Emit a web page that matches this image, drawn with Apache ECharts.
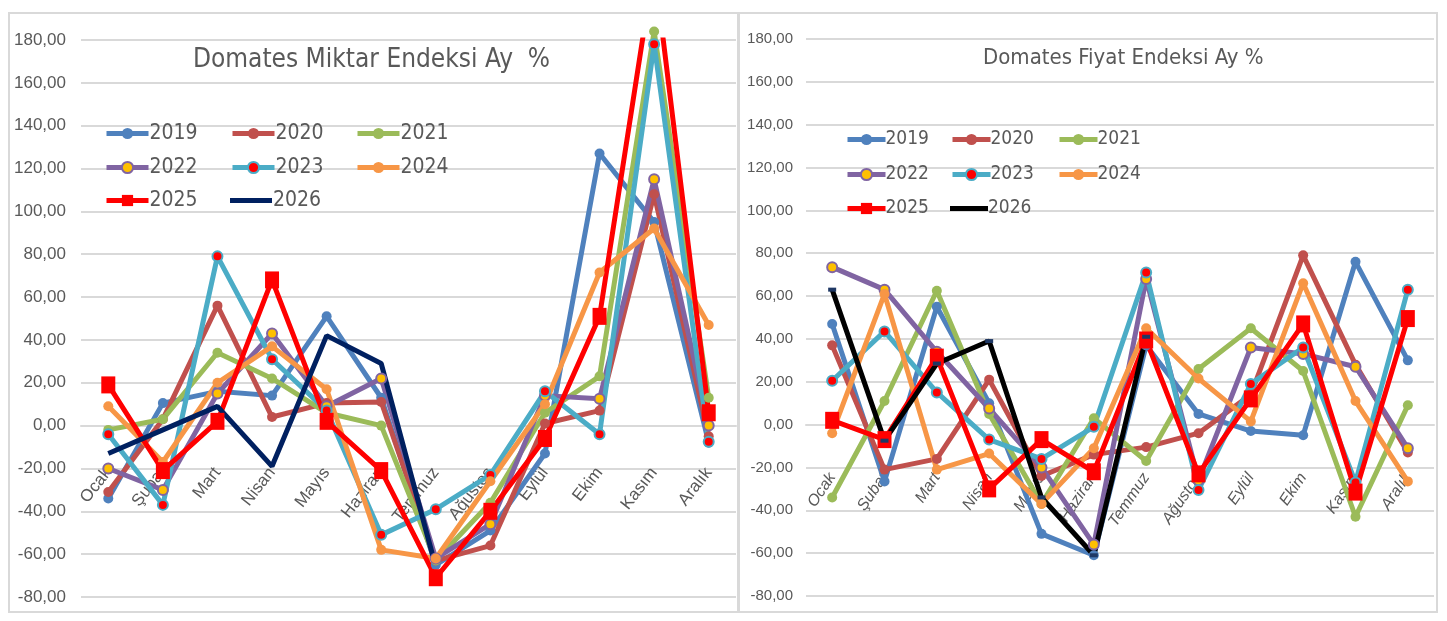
<!DOCTYPE html>
<html>
<head>
<meta charset="utf-8">
<script src="https://cdn.jsdelivr.net/npm/echarts@6.0.0/dist/echarts.min.js"></script>
<style>
body { margin: 0; background: #fff; width: 1447px; height: 621px; overflow: hidden; position: relative; }
.box { position: absolute; top: 14px; height: 597px; outline: 2px solid #d9d9d9; }
#miktar { left: 10px; width: 727px; }
#fiyat { left: 740px; width: 696px; }
</style>
</head>
<body>
<div id="miktar" class="box"></div>
<div id="fiyat" class="box"></div>
<script>
var months = ['Ocak', 'Şubat', 'Mart', 'Nisan', 'Mayıs', 'Haziran', 'Temmuz', 'Ağustos', 'Eylül', 'Ekim', 'Kasım', 'Aralık'];
var years = ['2019', '2020', '2021', '2022', '2023', '2024', '2025', '2026'];
var yMin = -80, yMax = 180, yStep = 20;

// Domates Miktar Endeksi Ay %
var miktar2019 = [-34, 10.5, 16, 14, 51, 13, -65, -49, -13, 127, 95, -8];
var miktar2020 = [-31, 3, 56, 4, 10.5, 11, -63, -56, 1, 7, 108, -5];
var miktar2021 = [-2, 3, 34, 22, 6, 0, -63, -36, 6, 23, 184, 13];
var miktar2022 = [-20, -30, 15, 43, 9, 22, -62, -46, 14, 12.5, 115, 0];
var miktar2023 = [-4, -37, 79, 31, 7, -51, -39, -23, 16, -4, 178, -7.5];
var miktar2024 = [9, -17, 20, 37, 17, -58, -62, -26, 10, 71.5, 92, 47];
var miktar2025 = [19, -21, 2, 68, 2, -21, -71, -40, -6, 51, 215, 6];
var miktar2026 = [-13, -2, 9, -19, 42, 29, -66];

// Domates Fiyat Endeksi Ay %
var fiyat2019 = [47, -26.5, 55, 10, -51, -61, 37, 5, -3, -5, 76, 30];
var fiyat2020 = [37, -21, -16, 21, -24, -14, -10.5, -4, 14, 79, 28, -13];
var fiyat2021 = [-34, 11, 62.5, 5, -37, 3, -17, 26, 45, 25, -43, 9];
var fiyat2022 = [73.5, 63, 34, 7.5, -20, -56, 68, -26, 36, 33, 27, -11];
var fiyat2023 = [20.5, 43.5, 15, -7, -16, -1, 71, -30.5, 19, 36, -27, 63];
var fiyat2024 = [-4, 61, -21, -13.5, -37, -11, 45, 21.5, 1.5, 66, 11, -26.5];
var fiyat2025 = [2, -7, 31.5, -30, -7, -22, 39.5, -23, 12, 47, -31.5, 49.5];
var fiyat2026 = [63, -7.5, 28.5, 39, -34, -61, 41];

var lineColors = ['#4F81BD', '#C0504D', '#9BBB59', '#8064A2', '#4BACC6', '#F79646', '#FF0000'];
var grayText = '#595959';
var narrow = "'DejaVu Sans Condensed', 'DejaVu Sans', sans-serif";
var plain = "'Liberation Sans', Arial, sans-serif";

function fmt(v) {
    return v.toFixed(2).replace('.', ',');
}

function buildSeries(data, lastColor, lastSymbol) {
    return data.map(function (vals, i) {
        var color = i < 7 ? lineColors[i] : lastColor;
        var s = {
            name: years[i],
            type: 'line',
            data: vals,
            symbol: 'circle',
            symbolSize: 10,
            clip: false,
            lineStyle: { width: 5, color: color },
            itemStyle: { color: color }
        };
        if (i == 3) s.itemStyle = { color: '#FFC000', borderColor: color, borderWidth: 2 };
        if (i == 4) s.itemStyle = { color: '#FF0000', borderColor: color, borderWidth: 2 };
        if (i == 6) {
            s.symbol = 'rect';
            s.symbolSize = [14, 17];
            s.clip = true;
        }
        if (i == 7) {
            s.symbol = lastSymbol;
            s.symbolSize = [8, 4];
            s.itemStyle = { color: '#1F3864' };
        }
        return s;
    });
}

function buildLegends(cfg) {
    return years.map(function (y, i) {
        var lg = {
            data: [y],
            left: cfg.legendCols[i % 3],
            top: cfg.legendRows[Math.floor(i / 3)],
            padding: 0,
            itemWidth: cfg.iconW,
            itemHeight: 14,
            itemGap: 0,
            lineStyle: { width: 5 },
            textStyle: { fontFamily: narrow, fontSize: cfg.legendSize, color: grayText, padding: [0, 0, 0, cfg.legendPad] }
        };
        if (i == 7) {
            // 2026 is drawn as a plain line in the key
            lg.icon = 'rect';
            lg.itemHeight = 5;
            lg.itemStyle = { color: cfg.lastColor };
        }
        return lg;
    });
}

function initChart(id, cfg) {
    var chart = echarts.init(document.getElementById(id));
    var g = cfg.grid;
    var plotH = document.getElementById(id).clientHeight - g.top - g.bottom;
    // category axis sits on the zero line
    var zeroOffset = -plotH * (0 - yMin) / (yMax - yMin);
    chart.setOption({
        animation: false,
        title: {
            text: cfg.title,
            left: cfg.titleLeft,
            top: 33,
            padding: 0,
            textStyle: { fontFamily: narrow, fontSize: cfg.titleSize, fontWeight: 'normal', color: grayText }
        },
        legend: buildLegends(cfg),
        grid: g,
        xAxis: {
            type: 'category',
            data: months,
            boundaryGap: true,
            position: 'bottom',
            offset: zeroOffset,
            axisLine: { onZero: false, lineStyle: { color: '#D9D9D9', width: 2 } },
            axisTick: { show: false },
            axisLabel: {
                rotate: cfg.xRotate,
                margin: cfg.xMargin,
                fontSize: cfg.xSize,
                fontFamily: plain,
                fontStyle: cfg.italic ? 'italic' : 'normal',
                color: grayText
            }
        },
        yAxis: {
            type: 'value',
            min: yMin,
            max: yMax,
            interval: yStep,
            axisLine: { show: false },
            axisTick: { show: false },
            axisLabel: { formatter: fmt, fontSize: cfg.ySize, fontFamily: plain, color: grayText, margin: cfg.yMargin },
            splitLine: { lineStyle: { color: '#D9D9D9', width: 2 } }
        },
        series: buildSeries(cfg.data, cfg.lastColor, cfg.lastSymbol)
    });
}

initChart('miktar', {
    title: 'Domates Miktar Endeksi Ay  %',
    titleLeft: 183,
    titleSize: 26,
    legendCols: [94, 220, 345],
    legendRows: [109, 143, 176],
    legendSize: 21,
    legendPad: -4,
    iconW: 42,
    grid: { left: 71, right: 1, top: 26, bottom: 14, outerBoundsMode: 'none' },
    yMargin: 15,
    ySize: 17,
    xSize: 17,
    xRotate: 52,
    xMargin: 44,
    italic: false,
    data: [miktar2019, miktar2020, miktar2021, miktar2022, miktar2023, miktar2024, miktar2025, miktar2026],
    lastColor: '#002060',
    lastSymbol: 'none'
});

initChart('fiyat', {
    title: 'Domates Fiyat Endeksi Ay %',
    titleLeft: 243,
    titleSize: 22,
    legendCols: [105, 210, 317],
    legendRows: [116, 151, 185],
    legendSize: 19,
    legendPad: -5,
    iconW: 38,
    grid: { left: 66, right: 2, top: 25, bottom: 15, outerBoundsMode: 'none' },
    yMargin: 13,
    ySize: 15,
    xSize: 16,
    xRotate: 56,
    xMargin: 50,
    italic: true,
    data: [fiyat2019, fiyat2020, fiyat2021, fiyat2022, fiyat2023, fiyat2024, fiyat2025, fiyat2026],
    lastColor: '#000000',
    lastSymbol: 'rect'
});
</script>
</body>
</html>
